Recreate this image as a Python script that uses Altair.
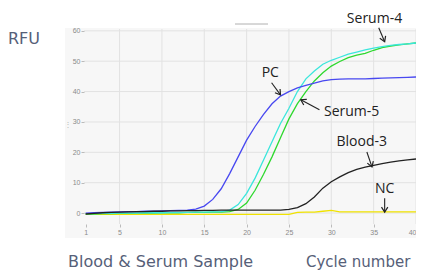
import math
import altair as alt
import pandas as pd

# ---------------- data ----------------
cycles = list(range(1, 41))

series_names = ["NC", "Serum-5", "Serum-4", "PC", "Blood-3"]
series_colors = ["#f0e200", "#2ed82e", "#3ae6dc", "#4848f0", "#222222"]

nc = [-0.4, -0.4, -0.4, -0.4, -0.4, -0.4, -0.4, -0.4, -0.4, -0.4,
      -0.4, -0.4, -0.4, -0.4, -0.4, -0.4, -0.4, -0.4, -0.4, -0.4,
      -0.4, -0.4, -0.4, -0.4, -0.4, 0.2, 0.3, 0.3, 0.6, 0.9,
      0.4, 0.4, 0.4, 0.4, 0.4, 0.4, 0.4, 0.4, 0.4, 0.4]
serum5 = [-0.3, -0.3, -0.2, -0.2, -0.1, -0.1, 0.0, 0.0, 0.0, 0.1,
          0.1, 0.1, 0.2, 0.2, 0.2, 0.3, 0.3, 0.5, 1.2, 3.3,
          7.5, 12.8, 18.5, 24.8, 31.0, 36.0, 40.0, 43.5, 46.2, 48.4,
          49.9, 51.2, 52.0, 52.6, 53.6, 54.5, 55.0, 55.4, 55.7, 56.0]
serum4 = [-0.2, -0.2, -0.1, -0.1, 0.0, 0.0, 0.0, 0.1, 0.1, 0.1,
          0.2, 0.2, 0.2, 0.3, 0.3, 0.4, 0.5, 1.0, 2.8, 6.5,
          11.5, 17.5, 23.5, 29.5, 34.5, 40.0, 44.2, 46.8, 49.0, 50.3,
          51.3, 52.3, 53.0, 53.7, 54.3, 54.8, 55.2, 55.5, 55.7, 56.0]
pc = [0.0, 0.1, 0.2, 0.3, 0.4, 0.5, 0.5, 0.6, 0.6, 0.7,
      0.8, 0.9, 1.0, 1.3, 2.3, 4.5, 8.0, 13.0, 18.5, 24.0,
      28.5, 32.5, 36.0, 38.5, 40.0, 41.2, 42.0, 42.8, 43.5, 43.9,
      44.1, 44.2, 44.2, 44.2, 44.3, 44.4, 44.5, 44.6, 44.7, 44.8]
blood3 = [-0.3, -0.1, 0.1, 0.2, 0.3, 0.4, 0.5, 0.5, 0.6, 0.6,
          0.7, 0.7, 0.8, 0.8, 0.9, 0.9, 1.0, 1.0, 1.0, 1.0,
          1.0, 1.0, 1.0, 1.0, 1.2, 1.8, 3.1, 5.3, 8.2, 10.3,
          11.9, 13.3, 14.4, 15.1, 15.7, 16.3, 16.8, 17.2, 17.5, 17.8]
series_values = [nc, serum5, serum4, pc, blood3]

x_ticks = [1, 5, 10, 15, 20, 25, 30, 35, 40]
y_ticks = [0, 10, 20, 30, 40, 50, 60]

# annotations: label, text position, arrow start, arrow end (data units)
ann_labels = ["Serum-4", "PC", "Serum-5", "Blood-3", "NC"]
ann_tx = [35.1, 22.8, 32.4, 33.6, 36.3]
ann_ty = [64.0, 46.2, 33.3, 23.4, 7.9]
ann_x1 = [35.6, 22.95, 28.6, 34.2, 36.3]
ann_y1 = [61.0, 42.9, 34.0, 20.1, 4.9]
ann_x2 = [36.3, 24.0, 26.4, 34.8, 36.3]
ann_y2 = [56.4, 38.9, 37.3, 15.2, 0.3]

x_label = "Cycle number"
sample_label = "Blood & Serum Sample"
y_label = "RFU"

# ---------------- layout ----------------
W, H = 332, 195
X_DOM = [0.8, 40.0]
Y_DOM = [-3.6, 60.6]
px_x = W / (X_DOM[1] - X_DOM[0])
px_y = H / (Y_DOM[1] - Y_DOM[0])

rows = []
for name, vals in zip(series_names, series_values):
    for c, v in zip(cycles, vals):
        rows.append({"cycle": c, "rfu": v, "series": name})
df = pd.DataFrame(rows)

angles = []
for x1, y1, x2, y2 in zip(ann_x1, ann_y1, ann_x2, ann_y2):
    dx = (x2 - x1) * px_x
    dy = -(y2 - y1) * px_y
    angles.append(math.degrees(math.atan2(-dx, dy)) % 360)
ann = pd.DataFrame({"label": ann_labels, "tx": ann_tx, "ty": ann_ty,
                    "x1": ann_x1, "y1": ann_y1, "x2": ann_x2, "y2": ann_y2,
                    "angle": angles})

xs = alt.Scale(domain=X_DOM, nice=False, zero=False)
ys = alt.Scale(domain=Y_DOM, nice=False, zero=False)
cs = alt.Scale(domain=series_names, range=series_colors)

ax_x = alt.Axis(values=x_ticks, title=None, labelFontSize=7,
                labelColor="#8a8a8a", tickColor="#bbbbbb", tickSize=3,
                domain=False, grid=False, zindex=1,
                labelPadding=1, labelFlush=1, labelOverlap=False)
ax_y = alt.Axis(values=y_ticks, title=None,
                labelFontSize=7, labelColor="#8a8a8a", tickColor="#bbbbbb",
                tickSize=3, domain=False, grid=False, zindex=1,
                labelPadding=1)

one = pd.DataFrame({"a": [0]})

panel = alt.Chart(one).mark_rect(color="#f7f7f7").encode(
    x=alt.value(-19), x2=alt.value(W + 20), y=alt.value(-1), y2=alt.value(209)
)

grid_v = alt.Chart(pd.DataFrame({"v": x_ticks[1:]})).mark_rule(
    color="#e2e2e2", strokeWidth=1).encode(
    x=alt.X("v:Q", scale=xs, axis=ax_x), y=alt.value(0), y2=alt.value(H))
grid_h = alt.Chart(pd.DataFrame({"v": y_ticks})).mark_rule(
    color="#e2e2e2", strokeWidth=1).encode(
    y=alt.Y("v:Q", scale=ys, axis=ax_y), x=alt.value(0), x2=alt.value(W))

base = alt.Chart(df).mark_line(strokeWidth=1.3, clip=True).encode(
    x=alt.X("cycle:Q", scale=xs, axis=ax_x),
    y=alt.Y("rfu:Q", scale=ys, axis=ax_y),
    color=alt.Color("series:N", scale=cs, legend=None),
)
lines = [base.transform_filter(alt.datum.series == n) for n in series_names]

arrows = alt.Chart(ann).mark_rule(color="#222222", strokeWidth=1.1).encode(
    x=alt.X("x1:Q", scale=xs, axis=ax_x), y=alt.Y("y1:Q", scale=ys, axis=ax_y),
    x2="x2:Q", y2="y2:Q")
heads = alt.Chart(ann).mark_point(
    shape="M-1,-1.6L0,0L1,-1.6", filled=False, color="#222222",
    strokeWidth=1.2, size=40, opacity=1).encode(
    x=alt.X("x2:Q", scale=xs, axis=ax_x), y=alt.Y("y2:Q", scale=ys, axis=ax_y),
    angle=alt.Angle("angle:Q", scale=None))
texts = alt.Chart(ann).mark_text(font="Open Sans", fontSize=14, color="#222222",
                                 baseline="middle", align="center").encode(
    x=alt.X("tx:Q", scale=xs, axis=ax_x), y=alt.Y("ty:Q", scale=ys, axis=ax_y),
    text="label:N")

top_line = alt.Chart(one).mark_rule(color="#b0b0b0", strokeWidth=1).encode(
    x=alt.value(151), x2=alt.value(184), y=alt.value(-5))
dots = alt.Chart(pd.DataFrame({"t": ["⋮"]})).mark_text(
    fontSize=8, color="#bbbbbb").encode(x=alt.value(-16), y=alt.value(96), text="t:N")

txt_style = dict(font="DejaVu Sans", fontSize=16, color="#566078",
                 baseline="middle", align="left")
rfu = alt.Chart(pd.DataFrame({"t": [y_label]})).mark_text(**txt_style).encode(
    x=alt.value(-76), y=alt.value(10), text="t:N")
samp = alt.Chart(pd.DataFrame({"t": [sample_label]})).mark_text(**txt_style).encode(
    x=alt.value(-16), y=alt.value(233), text="t:N")
cyc = alt.Chart(pd.DataFrame({"t": [x_label]})).mark_text(
    **{**txt_style, "fontSize": 15}).encode(
    x=alt.value(222), y=alt.value(233), text="t:N")

chart = alt.layer(panel, grid_v, grid_h, *lines, arrows, heads, texts,
                  top_line, dots, rfu, samp, cyc).properties(
    width=W, height=H,
    autosize=alt.AutoSizeParams(type="none"),
    padding={"left": 76, "top": 21, "right": 0, "bottom": 47},
    background="white",
).configure_view(stroke=None)

chart.save("out.html", embed_options={"renderer": "svg", "actions": False})
